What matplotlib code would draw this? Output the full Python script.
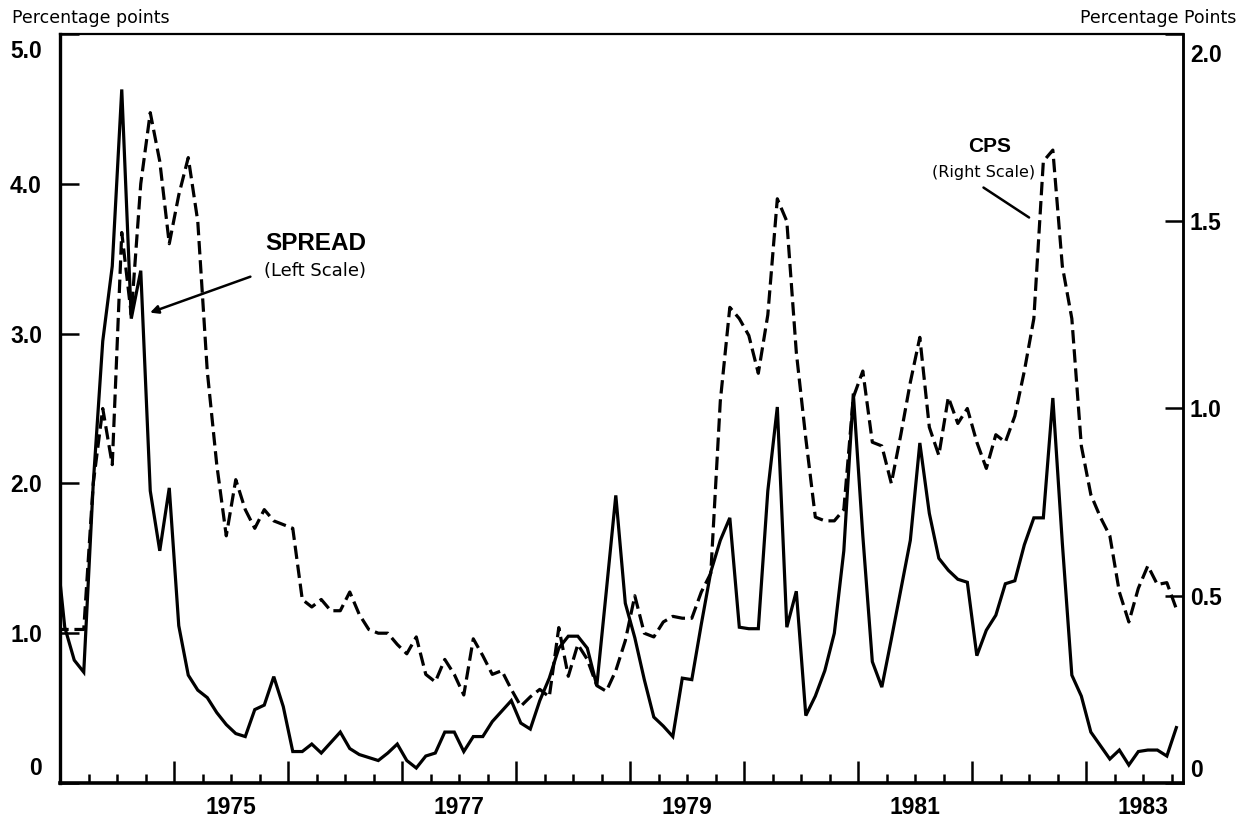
import numpy as np
import matplotlib
matplotlib.use("Agg")
import matplotlib.pyplot as plt
from matplotlib.ticker import FixedLocator, FuncFormatter, NullFormatter
from matplotlib.transforms import ScaledTranslation

# ---- data: monthly, Dec 1973 .. Nov 1983 ----
start_year = 1973
start_month = 12  # December 1973

spread = [1.65, 1.04, 0.82, 0.74, 2.00, 2.95, 3.45, 4.63, 3.10, 3.42,
          1.95, 1.55, 1.97, 1.05, 0.72, 0.62, 0.57, 0.47, 0.39, 0.33,
          0.31, 0.49, 0.52, 0.71, 0.51, 0.21, 0.21, 0.26, 0.20, 0.27,
          0.34, 0.23, 0.19, 0.17, 0.15, 0.20, 0.26, 0.15, 0.10, 0.18,
          0.20, 0.34, 0.34, 0.21, 0.31, 0.31, 0.41, 0.48, 0.55, 0.40,
          0.36, 0.55, 0.70, 0.90, 0.98, 0.98, 0.90, 0.65, 1.28, 1.92,
          1.20, 0.97, 0.69, 0.44, 0.38, 0.31, 0.70, 0.69, 1.06, 1.41,
          1.62, 1.77, 1.04, 1.03, 1.03, 1.95, 2.51, 1.04, 1.28, 0.45,
          0.58, 0.75, 1.00, 1.55, 2.60, 1.65, 0.81, 0.64, 0.96, 1.29,
          1.62, 2.27, 1.80, 1.50, 1.42, 1.36, 1.34, 0.85, 1.02, 1.12,
          1.33, 1.35, 1.59, 1.77, 1.77, 2.57, 1.60, 0.72, 0.58, 0.34,
          0.25, 0.16, 0.22, 0.12, 0.21, 0.22, 0.22, 0.18, 0.37]

cps = [0.41, 0.41, 0.41, 0.41, 0.80, 1.00, 0.85, 1.47, 1.25, 1.60,
       1.79, 1.66, 1.44, 1.57, 1.67, 1.50, 1.10, 0.85, 0.66, 0.81,
       0.73, 0.68, 0.73, 0.70, 0.69, 0.68, 0.49, 0.47, 0.49, 0.46,
       0.46, 0.51, 0.45, 0.41, 0.40, 0.40, 0.37, 0.345, 0.39, 0.29,
       0.27, 0.33, 0.29, 0.235, 0.385, 0.34, 0.29, 0.30, 0.25, 0.205,
       0.23, 0.25, 0.23, 0.415, 0.285, 0.37, 0.33, 0.26, 0.245, 0.30,
       0.38, 0.50, 0.40, 0.39, 0.43, 0.445, 0.44, 0.44, 0.51, 0.56,
       1.02, 1.27, 1.24, 1.195, 1.094, 1.25, 1.56, 1.50, 1.15, 0.92,
       0.71, 0.70, 0.70, 0.73, 1.03, 1.10, 0.91, 0.90, 0.80, 0.93,
       1.07, 1.19, 0.95, 0.875, 1.03, 0.96, 1.00, 0.91, 0.84, 0.93,
       0.91, 0.98, 1.10, 1.24, 1.66, 1.69, 1.38, 1.24, 0.90, 0.77,
       0.71, 0.66, 0.51, 0.43, 0.52, 0.58, 0.53, 0.535, 0.465]

left_ticks = [0, 1, 2, 3, 4, 5]
left_labels = ["0", "1.0", "2.0", "3.0", "4.0", "5.0"]
right_ticks = [0, 0.5, 1.0, 1.5, 2.0]
right_labels = ["0", "0.5", "1.0", "1.5", "2.0"]
year_labels = [1975, 1977, 1979, 1981, 1983]

# month mid-points as decimal years
n = len(spread)
t = start_year + (start_month - 1 + np.arange(n) + 0.5) / 12.0

BOLD = "Liberation Sans"
LIGHT = "DejaVu Sans"

fig = plt.figure(figsize=(12.38, 8.21), dpi=100)
ax = fig.add_axes([60 / 1238, 1 - 783 / 821, (1183 - 60) / 1238, (783 - 34) / 821])
ax2 = ax.twinx()

ax.plot(t, spread, color="black", lw=2.3, solid_joinstyle="miter", zorder=3)
ax2.plot(t, cps, color="black", lw=2.3, dashes=(4.2, 1.8), zorder=3)

ax.set_xlim(1974.0, 1983.85)
ax.set_ylim(0, 5)
ax2.set_ylim(0, 2)

# spines
for s, w in [("left", 2.4), ("bottom", 2.6), ("top", 1.6), ("right", 1.8)]:
    ax.spines[s].set_linewidth(w)
for s in ["left", "bottom", "top"]:
    ax2.spines[s].set_visible(False)
ax2.spines["right"].set_linewidth(1.8)

# x axis
ax.xaxis.set_major_locator(FixedLocator(np.arange(1975, 1984)))
ax.xaxis.set_major_formatter(NullFormatter())
ax.xaxis.set_minor_locator(FixedLocator([y + q for y in range(1974, 1984)
                                         for q in (0.25, 0.5, 0.75)]))
lab_pos = {y + 0.5: str(y) for y in year_labels}
ax.xaxis.set_minor_formatter(FuncFormatter(
    lambda v, p: next((s for k, s in lab_pos.items() if abs(k - v) < 1e-6), "")))
ax.tick_params(axis="x", which="major", direction="in", length=16, width=1.8,
               top=False)
ax.tick_params(axis="x", which="minor", direction="in", length=6.5, width=1.8,
               top=False, pad=9)
for lab in ax.get_xticklabels(minor=True):
    lab.set_fontfamily(BOLD)
    lab.set_fontweight("bold")
    lab.set_fontsize(16.5)

# left axis
ax.set_yticks(left_ticks)
ax.set_yticklabels(left_labels, fontfamily=BOLD, fontweight="bold", fontsize=16.5)
ax.tick_params(axis="y", direction="in", length=14, width=1.8, pad=13)

# right axis
ax2.set_yticks(right_ticks)
ax2.set_yticklabels(right_labels, fontfamily=BOLD, fontweight="bold", fontsize=16.5)
ax2.tick_params(axis="y", direction="in", length=13, width=1.8, pad=5)

# nudge end labels inward as in the original
def nudge(labels, first_dy, last_dy):
    labels[0].set_transform(labels[0].get_transform() +
                            ScaledTranslation(0, first_dy / 72, fig.dpi_scale_trans))
    labels[-1].set_transform(labels[-1].get_transform() +
                             ScaledTranslation(0, last_dy / 72, fig.dpi_scale_trans))

nudge(ax.get_yticklabels(), 12, -11)
nudge(ax2.get_yticklabels(), 11, -14)

# axis titles
fig.text(12 / 1238, 1 - 18 / 821, "Percentage points", fontfamily=LIGHT,
         fontsize=12.5, ha="left", va="center")
fig.text(1236 / 1238, 1 - 18 / 821, "Percentage Points", fontfamily=LIGHT,
         fontsize=12.5, ha="right", va="center")

# annotations
ax.text(1976.24, 3.60, "SPREAD", fontfamily=BOLD, fontweight="bold",
        fontsize=17.5, ha="center", va="center")
ax.text(1976.24, 3.42, "(Left Scale)", fontfamily=LIGHT, fontsize=13,
        ha="center", va="center")
ax.annotate("", xy=(1974.79, 3.14), xytext=(1975.67, 3.38),
            arrowprops=dict(arrowstyle="-|>", color="black", lw=1.8,
                            mutation_scale=12, shrinkA=0, shrinkB=0))

ax2.text(1982.15, 1.70, "CPS", fontfamily=BOLD, fontweight="bold",
         fontsize=15, ha="center", va="center")
ax2.text(1982.1, 1.63, "(Right Scale)", fontfamily=LIGHT, fontsize=11.5,
         ha="center", va="center")
ax2.annotate("", xy=(1982.5, 1.51), xytext=(1982.1, 1.59),
             arrowprops=dict(arrowstyle="-", color="black", lw=1.8,
                             shrinkA=0, shrinkB=0))

fig.savefig("out.png", dpi=100)
